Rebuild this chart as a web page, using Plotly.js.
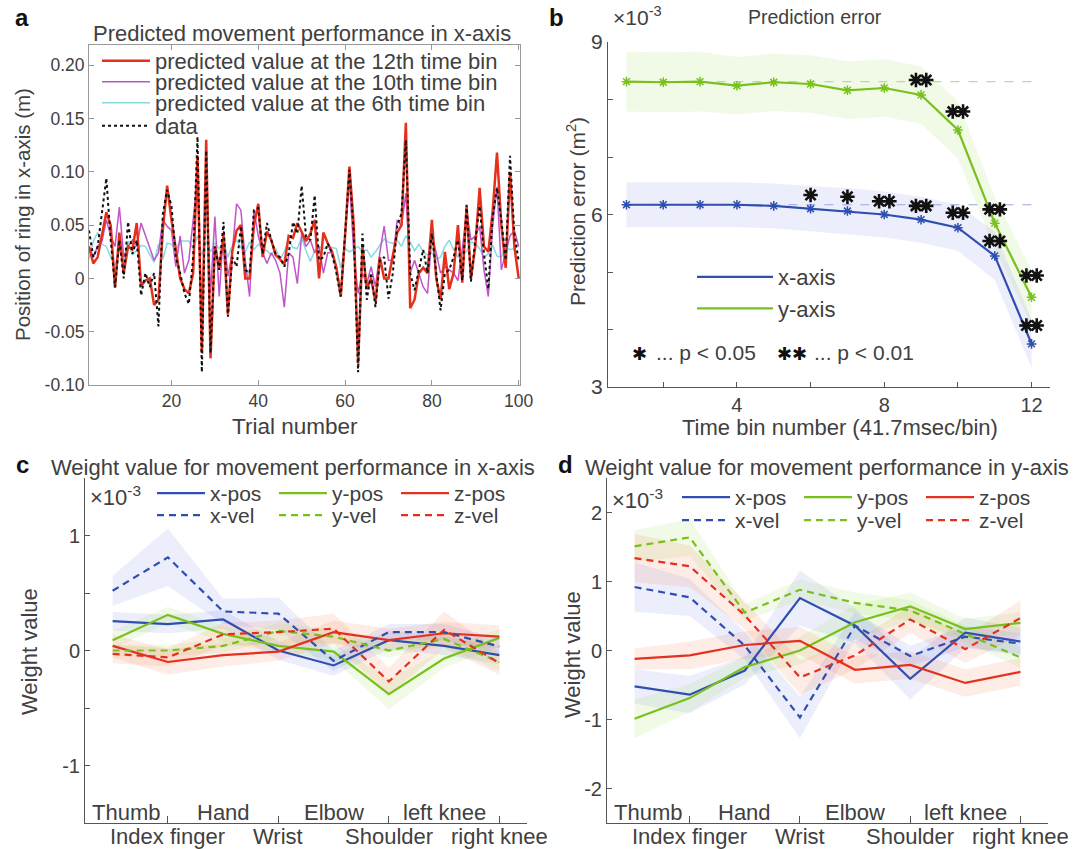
<!DOCTYPE html>
<html><head><meta charset="utf-8">
<script src="https://cdn.plot.ly/plotly-3.0.1.min.js"></script>
<style>body{margin:0;background:#fff}</style></head>
<body><div id="chart" style="width:1084px;height:849px"></div>
<script>
// ---------- Panel a ----------
const trials = Array.from({length:100},(_,i)=>i+1);
const dataVals = [0.045,0.02,0.03,0.06,0.094,0.036,-0.008,0.036,0.0,0.053,
0.023,0.036,-0.016,0.005,-0.008,0.005,-0.045,0.06,0.083,0.068,
0.02,0.005,-0.014,-0.024,0.02,0.133,-0.088,0.12,-0.07,0.03,
0.008,0.053,-0.036,0.02,0.011,0.049,0.008,0.005,0.064,0.066,
0.023,0.052,0.036,0.023,0.02,0.011,0.023,0.053,0.042,0.087,
0.039,0.036,0.078,0.017,0.02,0.033,0.023,0.005,-0.017,0.042,
0.102,0.042,-0.088,0.042,-0.02,0.005,-0.027,0.017,0.02,-0.019,
0.005,0.049,0.061,0.13,0.005,-0.011,0.008,0.027,0.005,0.042,
0.005,-0.03,0.005,0.008,0.02,0.036,-0.002,0.069,-0.003,0.036,
0.068,0.023,-0.01,0.058,0.085,0.055,0.017,0.115,0.042,0.016];
const pred12 = [0.03,0.014,0.02,0.04,0.062,0.05,-0.009,0.043,0.005,0.03,
0.027,0.052,-0.007,-0.002,0.0,-0.025,-0.02,0.045,0.087,0.055,
0.028,0.0,-0.01,-0.014,0.005,0.115,-0.07,0.13,-0.075,0.03,
0.01,0.04,-0.034,0.025,0.045,0.05,0.0,0.0,0.05,0.07,
0.02,0.044,0.036,0.022,0.018,0.013,0.04,0.038,0.052,0.044,
0.035,0.042,0.055,0.0,0.043,0.033,0.025,0.01,-0.017,0.04,
0.105,0.05,-0.08,0.03,-0.01,0.0,-0.022,0.02,0.0,0.0,
0.02,0.043,0.05,0.146,-0.028,-0.02,0.005,0.01,0.005,0.055,
0.0,-0.02,0.025,-0.01,0.005,0.05,-0.004,0.068,0.0,0.03,
0.085,0.03,0.025,0.063,0.118,0.05,0.01,0.1,0.03,0.0];
const pred10 = [0.03,0.02,0.03,0.035,0.055,0.04,0.03,0.067,0.02,0.03,
0.036,0.03,0.052,0.04,0.03,0.017,0.024,0.055,0.049,0.045,
0.011,0.04,0.005,0.017,0.055,0.093,-0.04,0.086,-0.014,0.058,
-0.017,0.045,0.002,0.024,0.07,0.064,0.017,-0.017,0.064,0.04,
0.024,0.014,0.024,0.017,0.005,-0.027,0.024,0.02,-0.005,0.042,
0.03,0.036,0.024,0.03,0.005,0.024,0.024,0.011,-0.014,0.036,
0.093,0.024,-0.014,0.005,-0.005,0.011,-0.008,0.024,0.049,0.017,
0.017,0.055,0.049,0.08,0.005,0.017,0.005,-0.008,-0.014,0.042,
0.024,0.005,0.011,0.008,0.005,-0.002,0.027,0.064,0.036,0.04,
0.049,0.008,-0.017,0.049,0.086,0.008,0.024,0.04,0.045,0.03];
const pred6 = [0.018,0.035,0.043,0.032,0.03,0.02,0.012,0.027,0.016,0.035,
0.022,0.027,0.031,0.03,0.022,0.015,0.032,0.018,0.033,0.032,
0.027,0.035,0.035,0.035,0.028,0.04,0.022,0.035,0.025,0.033,
0.028,0.033,0.02,0.031,0.036,0.029,0.025,0.034,0.027,0.032,
0.028,0.026,0.022,0.028,0.018,0.025,0.036,0.029,0.028,0.038,
0.026,0.016,0.026,0.03,0.028,0.029,0.029,0.028,0.01,0.028,
0.025,0.027,0.03,0.025,0.027,0.02,0.025,0.031,0.037,0.034,
0.033,0.036,0.03,0.04,0.034,0.026,0.032,0.025,0.022,0.024,
0.018,0.02,0.03,0.036,0.027,0.02,0.025,0.025,0.034,0.033,
0.028,0.02,0.023,0.031,0.021,0.02,0.03,0.027,0.028,0.032];
const aYTickVals = [-0.10,-0.05,0,0.05,0.10,0.15,0.20];
const aYTickText = ['-0.10','-0.05','0','0.05','0.10','0.15','0.20'];
const aXTickVals = [20,40,60,80,100];

// ---------- Panel b ----------
const bins = [1,2,3,4,5,6,7,8,9,10,11,12];
const errXaxis = [6.17,6.17,6.17,6.17,6.15,6.10,6.06,6.00,5.91,5.77,5.28,3.75];
const errXaxisHalf = [0.39,0.39,0.39,0.39,0.39,0.39,0.40,0.40,0.40,0.40,0.42,0.42];
const errYaxis = [8.31,8.30,8.31,8.24,8.30,8.27,8.16,8.20,8.08,7.47,5.85,4.56];
const errYaxisHalf = [0.52,0.52,0.52,0.50,0.50,0.50,0.50,0.50,0.50,0.50,0.45,0.47];
const sigSingleBins = [6,7];
const sigSingleVals = [6.34,6.31];
const sigDoubleBins = [8,9,10,11,12,9,10,11,12];
const sigDoubleVals = [6.23,6.15,6.03,5.54,4.07,8.34,7.79,6.09,4.94];
const bXTickVals = [2,4,6,8,10,12];
const bXTickText = ['','4','','8','','12'];
const bYTickVals = [3,4,5,6,7,8,9];
const bYTickText = ['3','','','6','','','9'];

// ---------- Panels c, d ----------
const joints = ['Thumb','Index finger','Hand','Wrist','Elbow','Shoulder','left knee','right knee'];
// panel c (x-axis weights, x10^-3)
const cXpos = [0.255,0.23,0.27,0.0,-0.13,0.09,0.04,-0.04];
const cXposErr = [0.08,0.08,0.08,0.08,0.09,0.08,0.08,0.08];
const cXvel = [0.52,0.81,0.34,0.32,-0.09,0.16,0.16,0.035];
const cXvelErr = [0.13,0.25,0.11,0.14,0.09,0.07,0.07,0.07];
const cYpos = [0.09,0.31,0.145,0.04,-0.01,-0.38,-0.07,0.11];
const cYposErr = [0.08,0.07,0.07,0.06,0.07,0.13,0.08,0.08];
const cYvel = [0.0,0.0,0.04,0.17,0.12,0.0,0.10,-0.10];
const cYvelErr = [0.05,0.05,0.06,0.07,0.06,0.06,0.06,0.08];
const cZpos = [0.04,-0.10,-0.04,-0.01,0.16,0.09,0.15,0.12];
const cZposErr = [0.10,0.11,0.10,0.08,0.10,0.10,0.10,0.10];
const cZvel = [-0.03,-0.06,0.14,0.16,0.19,-0.27,0.18,-0.11];
const cZvelErr = [0.08,0.08,0.10,0.10,0.13,0.12,0.16,0.10];
// panel d (y-axis weights, x10^-3)
const dXpos = [-0.52,-0.64,-0.29,0.76,0.36,-0.41,0.26,0.13];
const dXposErr = [0.25,0.27,0.20,0.40,0.25,0.30,0.22,0.20];
const dXvel = [0.92,0.77,0.07,-0.97,0.36,-0.08,0.20,0.10];
const dXvelErr = [0.36,0.27,0.20,0.30,0.20,0.15,0.15,0.15];
const dYpos = [-0.99,-0.69,-0.24,0.0,0.41,0.64,0.31,0.40];
const dYposErr = [0.28,0.20,0.15,0.20,0.25,0.20,0.15,0.15];
const dYvel = [1.51,1.64,0.55,0.88,0.69,0.58,0.24,-0.10];
const dYvelErr = [0.23,0.27,0.12,0.15,0.15,0.15,0.12,0.15];
const dZpos = [-0.12,-0.07,0.08,0.14,-0.28,-0.21,-0.47,-0.31];
const dZposErr = [0.15,0.20,0.20,0.20,0.20,0.20,0.20,0.20];
const dZvel = [1.34,1.22,0.51,-0.39,-0.07,0.45,0.02,0.47];
const dZvelErr = [0.35,0.30,0.20,0.25,0.20,0.20,0.20,0.25];

const W = 1084, H = 849;
const px = v => v / W, py = v => 1 - v / H;
const FONT = '"Liberation Sans", Arial, sans-serif';
const TXT = '#404040';
const AX = '#555';

const BLUE = '#2f4fae', GREEN = '#78c01c', RED = '#e2311f';
const BLUEF = 'rgba(70,90,230,0.10)', GREENF = 'rgba(140,210,60,0.12)', REDF = 'rgba(245,110,60,0.12)';

const traces = [];

// Panel a (drawing order: cyan, magenta, red, data)
traces.push({x: trials, y: pred6, xaxis:'x', yaxis:'y', mode:'lines', name:'predicted value at the 6th time bin',
  line:{color:'#86dbe2', width:1.5}, legend:'legend3'});
traces.push({x: trials, y: pred10, xaxis:'x', yaxis:'y', mode:'lines', name:'predicted value at the 10th time bin',
  line:{color:'#c055c9', width:1.5}, legend:'legend2'});
traces.push({x: trials, y: pred12, xaxis:'x', yaxis:'y', mode:'lines', name:'predicted value at the 12th time bin',
  line:{color:'#e5301c', width:2.5}, legend:'legend'});
traces.push({x: trials, y: dataVals, xaxis:'x', yaxis:'y', mode:'lines', name:'data',
  line:{color:'#111', width:2, dash:'dot'}, legend:'legend4'});

function band(xs, ys, half, fill, xa, ya) {
  const up = ys.map((v,i)=>v+half[i]);
  const lo = ys.map((v,i)=>v-half[i]);
  return {x: xs.concat(xs.slice().reverse()), y: up.concat(lo.slice().reverse()),
    xaxis: xa, yaxis: ya, mode:'lines', fill:'toself', fillcolor: fill,
    line:{width:0, color:'rgba(0,0,0,0)'}, hoverinfo:'skip', showlegend:false};
}
// Panel b
traces.push(band(bins, errYaxis, errYaxisHalf, 'rgba(140,210,60,0.12)', 'x2', 'y2'));
traces.push(band(bins, errXaxis, errXaxisHalf, 'rgba(80,90,230,0.10)', 'x2', 'y2'));
traces.push({x:[bins[0], bins[bins.length-1]], y:[errYaxis[0], errYaxis[0]], xaxis:'x2', yaxis:'y2', mode:'lines',
  line:{color:'#b9dd8e', width:1.2, dash:'dash'}, showlegend:false, hoverinfo:'skip'});
traces.push({x:[bins[0], bins[bins.length-1]], y:[errXaxis[0], errXaxis[0]], xaxis:'x2', yaxis:'y2', mode:'lines',
  line:{color:'#98a6dc', width:1.2, dash:'dash'}, showlegend:false, hoverinfo:'skip'});
[[errXaxis, BLUE, 'x-axis'], [errYaxis, GREEN, 'y-axis']].forEach(([vals, col, nm]) => {
  traces.push({x: bins, y: vals, xaxis:'x2', yaxis:'y2', mode:'lines', name:nm,
    line:{color:col, width:2.2}, legend:'legend5'});
  traces.push({x: bins, y: vals, xaxis:'x2', yaxis:'y2', mode:'markers', showlegend:false, hoverinfo:'skip',
    marker:{symbol:'asterisk-open', size:8, color:col, line:{color:col, width:1.5}}});
});
const sigMarker = {symbol:'asterisk-open', size:12, color:'#111', line:{color:'#111', width:2.6}};
const dblHalfGap = 0.14; // half distance between the two stars of a double mark, in bins
traces.push({x: sigSingleBins, y: sigSingleVals, xaxis:'x2', yaxis:'y2', mode:'markers', marker:sigMarker,
  showlegend:false, hoverinfo:'skip'});
traces.push({x: sigDoubleBins.map(b=>b-dblHalfGap), y: sigDoubleVals, xaxis:'x2', yaxis:'y2', mode:'markers', marker:sigMarker,
  showlegend:false, hoverinfo:'skip'});
traces.push({x: sigDoubleBins.map(b=>b+dblHalfGap), y: sigDoubleVals, xaxis:'x2', yaxis:'y2', mode:'markers', marker:sigMarker,
  showlegend:false, hoverinfo:'skip'});

// Panels c, d
function weightPanel(xa, ya, series, lg1, lg2) {
  series.forEach(s => traces.push(band(joints, s.v, s.e, s.f, xa, ya)));
  series.forEach(s => traces.push({x: joints, y: s.v, xaxis:xa, yaxis:ya, mode:'lines', name:s.n,
    line:{color:s.c, width:2.2, dash: s.d ? '7px,5px' : 'solid'}, legend: s.d ? lg2 : lg1}));
}
weightPanel('x3','y3',[
  {n:'x-pos', v:cXpos, e:cXposErr, c:BLUE, f:BLUEF},
  {n:'y-pos', v:cYpos, e:cYposErr, c:GREEN, f:GREENF},
  {n:'z-pos', v:cZpos, e:cZposErr, c:RED, f:REDF},
  {n:'x-vel', v:cXvel, e:cXvelErr, c:BLUE, f:BLUEF, d:true},
  {n:'y-vel', v:cYvel, e:cYvelErr, c:GREEN, f:GREENF, d:true},
  {n:'z-vel', v:cZvel, e:cZvelErr, c:RED, f:REDF, d:true}], 'legend6', 'legend7');
weightPanel('x4','y4',[
  {n:'x-pos', v:dXpos, e:dXposErr, c:BLUE, f:BLUEF},
  {n:'y-pos', v:dYpos, e:dYposErr, c:GREEN, f:GREENF},
  {n:'z-pos', v:dZpos, e:dZposErr, c:RED, f:REDF},
  {n:'x-vel', v:dXvel, e:dXvelErr, c:BLUE, f:BLUEF, d:true},
  {n:'y-vel', v:dYvel, e:dYvelErr, c:GREEN, f:GREENF, d:true},
  {n:'z-vel', v:dZvel, e:dZvelErr, c:RED, f:REDF, d:true}], 'legend8', 'legend9');

const axBase = {showgrid:false, zeroline:false, showline:true, linecolor:AX, linewidth:1,
  ticks:'inside', ticklen:5, tickcolor:AX, tickfont:{family:FONT, size:18, color:TXT}};

const evenJoints = joints.filter((_,i)=>i%2===1);
const oddJoints = joints.filter((_,i)=>i%2===0);

const legendBase = {bgcolor:'rgba(0,0,0,0)', borderwidth:0, xanchor:'left', yanchor:'top', tracegroupgap:0,
  font:{family:FONT, size:21, color:TXT}, itemclick:false, itemdoubleclick:false};
const legA = (top) => Object.assign({}, legendBase, {x:px(97), y:py(top), itemwidth:48, font:{family:FONT, size:22, color:TXT}});
const legH = (left, top) => Object.assign({}, legendBase, {orientation:'h', x:px(left), y:py(top), itemwidth:48, entrywidth:59});

const ann = [];
const A = (text, x, y, o={}) => ann.push(Object.assign({text, x:px(x), y:py(y), xref:'paper', yref:'paper',
  showarrow:false, xanchor:'center', yanchor:'middle', font:{family:FONT, size:17, color:TXT}}, o));
const F = (size, color) => ({family:FONT, size, color: color || TXT});
A('<b>a</b>', 22, 17, {font:F(24,'#111')});
A('<b>b</b>', 556, 17, {font:F(24,'#111')});
A('<b>c</b>', 22, 464, {font:F(24,'#111')});
A('<b>d</b>', 565, 464, {font:F(24,'#111')});
A('Predicted movement performance in x-axis', 302, 33, {font:F(22)});
A('Prediction error', 815, 17, {font:F(19.5)});
A('×10<sup>-3</sup>', 611, 16, {xanchor:'left', font:F(21)});
A('Weight value for movement performance in x-axis', 293, 467, {font:F(22)});
A('Weight value for movement performance in y-axis', 827, 467, {font:F(22)});
A('×10<sup>-3</sup>', 88, 496, {xanchor:'left', font:F(22)});
A('×10<sup>-3</sup>', 610, 499, {xanchor:'left', font:F(22)});
A('Position of ring in x-axis (m)', 22, 215, {textangle:-90, font:F(20.5)});
A('Trial number', 295, 426, {font:F(22.5)});
A('Prediction error (m<sup>2</sup>)', 576, 212, {textangle:-90, font:F(21)});
A('Time bin number (41.7msec/bin)', 840, 427, {font:F(22)});
A('Weight value', 29, 652, {textangle:-90, font:F(22)});
A('Weight value', 572, 655, {textangle:-90, font:F(22)});
A('✱', 639, 353, {font:{family:'"DejaVu Sans"', size:18, color:'#111'}});
A('... p &lt; 0.05', 654, 352, {xanchor:'left', font:F(21)});
A('✱✱', 792, 353, {font:{family:'"DejaVu Sans"', size:18, color:'#111'}});
A('... p &lt; 0.01', 812, 352, {xanchor:'left', font:F(21)});
['x3','x4'].forEach(xr => {
  oddJoints.forEach((j,i) => ann.push({text:j, x:j, xref:xr, y:py(812), yref:'paper', showarrow:false,
    xanchor:'center', yanchor:'middle', xshift: i===0 ? 13 : 0, font:F(22)}));
  evenJoints.forEach(j => ann.push({text:j, x:j, xref:xr, y:py(836), yref:'paper', showarrow:false,
    xanchor:'center', yanchor:'middle', font:F(22)}));
});

const layout = {
  width:W, height:H, margin:{l:0,r:0,t:0,b:0}, paper_bgcolor:'#fff', plot_bgcolor:'rgba(0,0,0,0)',
  font:{family:FONT, color:TXT}, showlegend:true,
  xaxis: Object.assign({}, axBase, {domain:[px(89),px(520)], range:[1,100.3], tickvals:aXTickVals, anchor:'y',
    mirror:'ticks', linecolor:'#999', tickcolor:'#999', tickfont:F(17.5)}),
  yaxis: Object.assign({}, axBase, {domain:[py(385),py(45)], range:[-0.10,0.219], tickvals:aYTickVals, ticktext:aYTickText,
    anchor:'x', mirror:'ticks', linecolor:'#999', tickcolor:'#999', tickfont:F(17.5)}),
  xaxis2: Object.assign({}, axBase, {domain:[px(608),px(1050)], range:[0.5,12.5], tickvals:bXTickVals, ticktext:bXTickText, anchor:'y2',
    tickfont:F(20)}),
  yaxis2: Object.assign({}, axBase, {domain:[py(387),py(42)], range:[3,9], tickvals:bYTickVals, ticktext:bYTickText, anchor:'x2',
    tickfont:F(21)}),
  xaxis3: Object.assign({}, axBase, {domain:[px(85),px(527)], type:'category', categoryorder:'array', categoryarray:joints,
    range:[-0.5,7.5], tickvals:evenJoints, showticklabels:false, anchor:'y3', ticklen:7}),
  yaxis3: Object.assign({}, axBase, {domain:[py(823),py(478)], range:[-1.5,1.5], tickvals:[-1,-0.5,0,0.5,1,1.5], ticktext:['-1','','0','','1',''],
    anchor:'x3', tickfont:F(20)}),
  xaxis4: Object.assign({}, axBase, {domain:[px(607),px(1048)], type:'category', categoryorder:'array', categoryarray:joints,
    range:[-0.5,7.5], tickvals:evenJoints, showticklabels:false, anchor:'y4', ticklen:7}),
  yaxis4: Object.assign({}, axBase, {domain:[py(823),py(478)], range:[-2.5,2.5], tickvals:[-2,-1,0,1,2], ticktext:['-2','-1','0','1','2'],
    anchor:'x4', tickfont:F(20)}),
  legend: legA(40), legend2: legA(61), legend3: legA(82), legend4: legA(105),
  legend5: Object.assign({}, legendBase, {x:px(692), y:py(256), itemwidth:76, font:F(22)}),
  legend6: legH(152, 473), legend7: legH(152, 495),
  legend8: legH(677, 477), legend9: legH(677, 500),
  annotations: ann
};

Plotly.newPlot('chart', traces, layout, {staticPlot:true, displayModeBar:false});
</script></body></html>
